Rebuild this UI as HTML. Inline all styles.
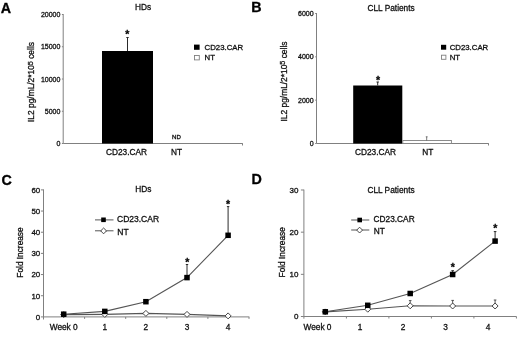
<!DOCTYPE html>
<html><head><meta charset="utf-8"><style>
html,body{margin:0;padding:0;background:#fff;}
body{width:520px;height:337px;overflow:hidden;}
svg{display:block;font-family:"Liberation Sans", sans-serif;}
text{stroke:#111;stroke-width:0.3px;}
</style></head><body>
<svg width="520" height="337" viewBox="0 0 520 337">
<defs><filter id="bl" filterUnits="userSpaceOnUse" x="0" y="0" width="520" height="337"><feGaussianBlur stdDeviation="0.35"/></filter></defs>
<rect width="520" height="337" fill="#fff"/>
<g filter="url(#bl)">
<text x="0.8" y="12.9" font-size="14.3" text-anchor="start" font-weight="bold" fill="#000" >A</text>
<text x="251.3" y="12.4" font-size="14.3" text-anchor="start" font-weight="bold" fill="#000" >B</text>
<text x="1.6" y="185.2" font-size="14.3" text-anchor="start" font-weight="bold" fill="#000" >C</text>
<text x="251.6" y="183.6" font-size="14.3" text-anchor="start" font-weight="bold" fill="#000" >D</text>
<text x="143.1" y="10.4" font-size="8.3" text-anchor="middle" font-weight="normal" fill="#111" >HDs</text>
<line x1="63.2" y1="14" x2="63.2" y2="143.5" stroke="#808080" stroke-width="1"/>
<line x1="63.2" y1="143.5" x2="242.8" y2="143.5" stroke="#808080" stroke-width="1"/>
<line x1="242.5" y1="143.5" x2="242.5" y2="145.5" stroke="#808080" stroke-width="1"/>
<line x1="61.900000000000006" y1="143.5" x2="63.2" y2="143.5" stroke="#808080" stroke-width="1"/>
<text x="60.4" y="146.0" font-size="7.0" text-anchor="end" font-weight="normal" fill="#111" >0</text>
<line x1="61.900000000000006" y1="111.25" x2="63.2" y2="111.25" stroke="#808080" stroke-width="1"/>
<text x="60.4" y="113.75" font-size="7.0" text-anchor="end" font-weight="normal" fill="#111" >5000</text>
<line x1="61.900000000000006" y1="79.0" x2="63.2" y2="79.0" stroke="#808080" stroke-width="1"/>
<text x="60.4" y="81.5" font-size="7.0" text-anchor="end" font-weight="normal" fill="#111" >10000</text>
<line x1="61.900000000000006" y1="46.75" x2="63.2" y2="46.75" stroke="#808080" stroke-width="1"/>
<text x="60.4" y="49.25" font-size="7.0" text-anchor="end" font-weight="normal" fill="#111" >15000</text>
<line x1="61.900000000000006" y1="14.5" x2="63.2" y2="14.5" stroke="#808080" stroke-width="1"/>
<text x="60.4" y="17.0" font-size="7.0" text-anchor="end" font-weight="normal" fill="#111" >20000</text>
<rect x="102" y="51" width="51" height="92.5" fill="#000"/>
<line x1="127.5" y1="37.5" x2="127.5" y2="51" stroke="#2a2a2a" stroke-width="1"/>
<line x1="126.3" y1="37.5" x2="128.7" y2="37.5" stroke="#2a2a2a" stroke-width="1"/>
<text x="127.2" y="38.33" font-size="10.5" text-anchor="middle" font-weight="bold" fill="#000" >*</text>
<text x="176.5" y="139.4" font-size="6.1" text-anchor="middle" font-weight="normal" fill="#111" >ND</text>
<text x="126.5" y="154.8" font-size="8.3" text-anchor="middle" font-weight="normal" fill="#111" >CD23.CAR</text>
<text x="176.5" y="154.8" font-size="8.3" text-anchor="middle" font-weight="normal" fill="#111" >NT</text>
<rect x="194" y="44.6" width="5.6" height="5.2" fill="#000"/>
<text x="204.6" y="50" font-size="7.8" text-anchor="start" font-weight="normal" fill="#111" >CD23.CAR</text>
<rect x="194.5" y="55.5" width="4.8" height="4.4" fill="#fff" stroke="#808080" stroke-width="0.9"/>
<text x="204.6" y="60.4" font-size="7.8" text-anchor="start" font-weight="normal" fill="#111" >NT</text>
<text transform="translate(34.3,82) rotate(-90)" font-size="8.4" text-anchor="middle" fill="#111">IL2 pg/mL/2*10<tspan font-size="7.2" dy="-1.6">5</tspan><tspan dy="1.6"> cells</tspan></text>
<text x="391.1" y="10.5" font-size="8.3" text-anchor="middle" font-weight="normal" fill="#111" >CLL Patients</text>
<line x1="316.5" y1="13" x2="316.5" y2="143.5" stroke="#808080" stroke-width="1"/>
<line x1="316.5" y1="143.5" x2="488.8" y2="143.5" stroke="#808080" stroke-width="1"/>
<line x1="488.5" y1="143.5" x2="488.5" y2="145.5" stroke="#808080" stroke-width="1"/>
<line x1="315.2" y1="143.5" x2="316.5" y2="143.5" stroke="#808080" stroke-width="1"/>
<text x="313.6" y="146.0" font-size="7.0" text-anchor="end" font-weight="normal" fill="#111" >0</text>
<line x1="315.2" y1="100.17" x2="316.5" y2="100.17" stroke="#808080" stroke-width="1"/>
<text x="313.6" y="102.67" font-size="7.0" text-anchor="end" font-weight="normal" fill="#111" >2000</text>
<line x1="315.2" y1="56.84" x2="316.5" y2="56.84" stroke="#808080" stroke-width="1"/>
<text x="313.6" y="59.34" font-size="7.0" text-anchor="end" font-weight="normal" fill="#111" >4000</text>
<line x1="315.2" y1="13.509999999999991" x2="316.5" y2="13.509999999999991" stroke="#808080" stroke-width="1"/>
<text x="313.6" y="16.00999999999999" font-size="7.0" text-anchor="end" font-weight="normal" fill="#111" >6000</text>
<rect x="353.2" y="85.5" width="49.1" height="58" fill="#000"/>
<rect x="402.8" y="140.5" width="48.6" height="3" fill="#fff" stroke="#808080" stroke-width="0.9"/>
<line x1="377.7" y1="82" x2="377.7" y2="85.5" stroke="#2a2a2a" stroke-width="1"/>
<line x1="376.5" y1="82" x2="378.9" y2="82" stroke="#2a2a2a" stroke-width="1"/>
<text x="378" y="83.53" font-size="10.5" text-anchor="middle" font-weight="bold" fill="#000" >*</text>
<line x1="426.7" y1="136.8" x2="426.7" y2="140.5" stroke="#555" stroke-width="0.8"/>
<line x1="425.8" y1="136.8" x2="427.6" y2="136.8" stroke="#555" stroke-width="0.8"/>
<text x="375.5" y="154.6" font-size="8.3" text-anchor="middle" font-weight="normal" fill="#111" >CD23.CAR</text>
<text x="427.9" y="154.6" font-size="8.3" text-anchor="middle" font-weight="normal" fill="#111" >NT</text>
<rect x="441" y="44.8" width="5.2" height="4.9" fill="#000"/>
<text x="449.7" y="49.9" font-size="7.8" text-anchor="start" font-weight="normal" fill="#111" >CD23.CAR</text>
<rect x="441.5" y="55.2" width="4.4" height="4.1" fill="#fff" stroke="#808080" stroke-width="0.9"/>
<text x="449.7" y="59.8" font-size="7.8" text-anchor="start" font-weight="normal" fill="#111" >NT</text>
<text transform="translate(286.9,81.5) rotate(-90)" font-size="8.4" text-anchor="middle" fill="#111">IL2 pg/mL/2*10<tspan font-size="7.2" dy="-1.6">5</tspan><tspan dy="1.6"> cells</tspan></text>
<text x="143.3" y="192.3" font-size="8.3" text-anchor="middle" font-weight="normal" fill="#111" >HDs</text>
<line x1="43.5" y1="189.4" x2="43.5" y2="319.5" stroke="#808080" stroke-width="1"/>
<line x1="43.5" y1="316.9" x2="249.3" y2="316.9" stroke="#808080" stroke-width="1"/>
<line x1="40.9" y1="316.9" x2="43.5" y2="316.9" stroke="#808080" stroke-width="1"/>
<text x="40.2" y="319.79999999999995" font-size="7.9" text-anchor="end" font-weight="normal" fill="#111" >0</text>
<line x1="40.9" y1="295.72999999999996" x2="43.5" y2="295.72999999999996" stroke="#808080" stroke-width="1"/>
<text x="40.2" y="298.62999999999994" font-size="7.9" text-anchor="end" font-weight="normal" fill="#111" >10</text>
<line x1="40.9" y1="274.55999999999995" x2="43.5" y2="274.55999999999995" stroke="#808080" stroke-width="1"/>
<text x="40.2" y="277.4599999999999" font-size="7.9" text-anchor="end" font-weight="normal" fill="#111" >20</text>
<line x1="40.9" y1="253.39" x2="43.5" y2="253.39" stroke="#808080" stroke-width="1"/>
<text x="40.2" y="256.28999999999996" font-size="7.9" text-anchor="end" font-weight="normal" fill="#111" >30</text>
<line x1="40.9" y1="232.21999999999997" x2="43.5" y2="232.21999999999997" stroke="#808080" stroke-width="1"/>
<text x="40.2" y="235.11999999999998" font-size="7.9" text-anchor="end" font-weight="normal" fill="#111" >40</text>
<line x1="40.9" y1="211.04999999999995" x2="43.5" y2="211.04999999999995" stroke="#808080" stroke-width="1"/>
<text x="40.2" y="213.94999999999996" font-size="7.9" text-anchor="end" font-weight="normal" fill="#111" >50</text>
<line x1="40.9" y1="189.87999999999997" x2="43.5" y2="189.87999999999997" stroke="#808080" stroke-width="1"/>
<text x="40.2" y="192.77999999999997" font-size="7.9" text-anchor="end" font-weight="normal" fill="#111" >60</text>
<line x1="84.6" y1="316.9" x2="84.6" y2="318.9" stroke="#808080" stroke-width="1"/>
<line x1="125.7" y1="316.9" x2="125.7" y2="318.9" stroke="#808080" stroke-width="1"/>
<line x1="166.8" y1="316.9" x2="166.8" y2="318.9" stroke="#808080" stroke-width="1"/>
<line x1="207.9" y1="316.9" x2="207.9" y2="318.9" stroke="#808080" stroke-width="1"/>
<line x1="249.0" y1="316.9" x2="249.0" y2="318.9" stroke="#808080" stroke-width="1"/>
<text x="63.7" y="330" font-size="8.3" text-anchor="middle" font-weight="normal" fill="#111" >Week 0</text>
<text x="104.80000000000001" y="330" font-size="8.3" text-anchor="middle" font-weight="normal" fill="#111" >1</text>
<text x="145.9" y="330" font-size="8.3" text-anchor="middle" font-weight="normal" fill="#111" >2</text>
<text x="187.0" y="330" font-size="8.3" text-anchor="middle" font-weight="normal" fill="#111" >3</text>
<text x="228.10000000000002" y="330" font-size="8.3" text-anchor="middle" font-weight="normal" fill="#111" >4</text>
<polyline points="63.7,314.6 104.80000000000001,314.4 145.9,313.4 187.0,314.4 228.10000000000002,315.9" fill="none" stroke="#555" stroke-width="1.15"/>
<polyline points="63.7,314.2 104.80000000000001,311.4 145.9,301.7 187.0,277.6 228.10000000000002,235.3" fill="none" stroke="#555" stroke-width="1.15"/>
<line x1="187.0" y1="264.5" x2="187.0" y2="277.6" stroke="#2a2a2a" stroke-width="1"/>
<line x1="185.8" y1="264.5" x2="188.2" y2="264.5" stroke="#2a2a2a" stroke-width="1"/>
<line x1="228.10000000000002" y1="206.6" x2="228.10000000000002" y2="235.3" stroke="#2a2a2a" stroke-width="1"/>
<line x1="226.90000000000003" y1="206.6" x2="229.3" y2="206.6" stroke="#2a2a2a" stroke-width="1"/>
<text x="187.2" y="265.93" font-size="10.5" text-anchor="middle" font-weight="bold" fill="#000" >*</text>
<text x="228.1" y="207.73" font-size="10.5" text-anchor="middle" font-weight="bold" fill="#000" >*</text>
<path d="M63.7 311.6 L66.7 314.6 L63.7 317.6 L60.7 314.6 Z" fill="#fff" stroke="#333" stroke-width="0.9"/>
<path d="M104.80000000000001 311.4 L107.80000000000001 314.4 L104.80000000000001 317.4 L101.80000000000001 314.4 Z" fill="#fff" stroke="#333" stroke-width="0.9"/>
<path d="M145.9 310.4 L148.9 313.4 L145.9 316.4 L142.9 313.4 Z" fill="#fff" stroke="#333" stroke-width="0.9"/>
<path d="M187.0 311.4 L190.0 314.4 L187.0 317.4 L184.0 314.4 Z" fill="#fff" stroke="#333" stroke-width="0.9"/>
<path d="M228.10000000000002 312.9 L231.10000000000002 315.9 L228.10000000000002 318.9 L225.10000000000002 315.9 Z" fill="#fff" stroke="#333" stroke-width="0.9"/>
<rect x="60.95" y="311.45" width="5.5" height="5.5" fill="#000"/>
<rect x="102.05000000000001" y="308.65" width="5.5" height="5.5" fill="#000"/>
<rect x="143.15" y="298.95" width="5.5" height="5.5" fill="#000"/>
<rect x="184.25" y="274.85" width="5.5" height="5.5" fill="#000"/>
<rect x="225.35000000000002" y="232.55" width="5.5" height="5.5" fill="#000"/>
<line x1="95" y1="219.9" x2="113.5" y2="219.9" stroke="#555" stroke-width="1"/>
<rect x="101.2" y="217.5" width="4.6" height="4.6" fill="#000"/>
<text x="117" y="222.2" font-size="8.5" text-anchor="start" font-weight="normal" fill="#111" >CD23.CAR</text>
<line x1="95" y1="230.8" x2="113.5" y2="230.8" stroke="#555" stroke-width="1"/>
<path d="M103.6 228.0 L106.5 230.9 L103.6 233.8 L100.69999999999999 230.9 Z" fill="#fff" stroke="#333" stroke-width="0.9"/>
<text x="117.3" y="234.5" font-size="8.5" text-anchor="start" font-weight="normal" fill="#111" >NT</text>
<text x="391" y="192.7" font-size="8.3" text-anchor="middle" font-weight="normal" fill="#111" >CLL Patients</text>
<line x1="303.9" y1="189.6" x2="303.9" y2="318.7" stroke="#808080" stroke-width="1"/>
<line x1="303.9" y1="316.5" x2="516.5" y2="316.5" stroke="#808080" stroke-width="1"/>
<line x1="300.9" y1="316.5" x2="303.9" y2="316.5" stroke="#808080" stroke-width="1"/>
<text x="298.4" y="319.4" font-size="8.0" text-anchor="end" font-weight="normal" fill="#111" >0</text>
<line x1="300.9" y1="274.33" x2="303.9" y2="274.33" stroke="#808080" stroke-width="1"/>
<text x="298.4" y="277.22999999999996" font-size="8.0" text-anchor="end" font-weight="normal" fill="#111" >10</text>
<line x1="300.9" y1="232.16" x2="303.9" y2="232.16" stroke="#808080" stroke-width="1"/>
<text x="298.4" y="235.06" font-size="8.0" text-anchor="end" font-weight="normal" fill="#111" >20</text>
<line x1="300.9" y1="189.99" x2="303.9" y2="189.99" stroke="#808080" stroke-width="1"/>
<text x="298.4" y="192.89000000000001" font-size="8.0" text-anchor="end" font-weight="normal" fill="#111" >30</text>
<line x1="346.4" y1="316.5" x2="346.4" y2="318.5" stroke="#808080" stroke-width="1"/>
<line x1="388.9" y1="316.5" x2="388.9" y2="318.5" stroke="#808080" stroke-width="1"/>
<line x1="431.4" y1="316.5" x2="431.4" y2="318.5" stroke="#808080" stroke-width="1"/>
<line x1="473.9" y1="316.5" x2="473.9" y2="318.5" stroke="#808080" stroke-width="1"/>
<line x1="516.4" y1="316.5" x2="516.4" y2="318.5" stroke="#808080" stroke-width="1"/>
<text x="317.5" y="330" font-size="8.3" text-anchor="middle" font-weight="normal" fill="#111" >Week 0</text>
<text x="360" y="330" font-size="8.3" text-anchor="middle" font-weight="normal" fill="#111" >1</text>
<text x="403.1" y="330" font-size="8.3" text-anchor="middle" font-weight="normal" fill="#111" >2</text>
<text x="445.6" y="330" font-size="8.3" text-anchor="middle" font-weight="normal" fill="#111" >3</text>
<text x="488.1" y="330" font-size="8.3" text-anchor="middle" font-weight="normal" fill="#111" >4</text>
<polyline points="325.3,311.9 367.75,309.2 410.20000000000005,305.8 452.65000000000003,306.0 495.1,306.0" fill="none" stroke="#555" stroke-width="1.15"/>
<polyline points="325.3,311.8 367.75,305.3 410.20000000000005,293.5 452.65000000000003,274.5 495.1,241.1" fill="none" stroke="#555" stroke-width="1.15"/>
<line x1="410.20000000000005" y1="300.6" x2="410.20000000000005" y2="305.8" stroke="#444" stroke-width="0.9"/>
<line x1="408.90000000000003" y1="300.6" x2="411.50000000000006" y2="300.6" stroke="#444" stroke-width="0.9"/>
<line x1="452.65000000000003" y1="300.4" x2="452.65000000000003" y2="306.0" stroke="#444" stroke-width="0.9"/>
<line x1="451.35" y1="300.4" x2="453.95000000000005" y2="300.4" stroke="#444" stroke-width="0.9"/>
<line x1="495.1" y1="300.0" x2="495.1" y2="306.0" stroke="#444" stroke-width="0.9"/>
<line x1="493.8" y1="300.0" x2="496.40000000000003" y2="300.0" stroke="#444" stroke-width="0.9"/>
<line x1="452.65000000000003" y1="270.7" x2="452.65000000000003" y2="274.5" stroke="#2a2a2a" stroke-width="1"/>
<line x1="451.35" y1="270.7" x2="453.95000000000005" y2="270.7" stroke="#2a2a2a" stroke-width="1"/>
<line x1="495.1" y1="231.6" x2="495.1" y2="241.1" stroke="#2a2a2a" stroke-width="1"/>
<line x1="493.8" y1="231.6" x2="496.40000000000003" y2="231.6" stroke="#2a2a2a" stroke-width="1"/>
<text x="452.7" y="270.53" font-size="10.5" text-anchor="middle" font-weight="bold" fill="#000" >*</text>
<text x="495.3" y="231.53" font-size="10.5" text-anchor="middle" font-weight="bold" fill="#000" >*</text>
<path d="M325.3 308.9 L328.3 311.9 L325.3 314.9 L322.3 311.9 Z" fill="#fff" stroke="#333" stroke-width="0.9"/>
<path d="M367.75 306.2 L370.75 309.2 L367.75 312.2 L364.75 309.2 Z" fill="#fff" stroke="#333" stroke-width="0.9"/>
<path d="M410.20000000000005 302.8 L413.20000000000005 305.8 L410.20000000000005 308.8 L407.20000000000005 305.8 Z" fill="#fff" stroke="#333" stroke-width="0.9"/>
<path d="M452.65000000000003 303.0 L455.65000000000003 306.0 L452.65000000000003 309.0 L449.65000000000003 306.0 Z" fill="#fff" stroke="#333" stroke-width="0.9"/>
<path d="M495.1 303.0 L498.1 306.0 L495.1 309.0 L492.1 306.0 Z" fill="#fff" stroke="#333" stroke-width="0.9"/>
<rect x="322.55" y="309.05" width="5.5" height="5.5" fill="#000"/>
<rect x="365.0" y="302.55" width="5.5" height="5.5" fill="#000"/>
<rect x="407.45000000000005" y="290.75" width="5.5" height="5.5" fill="#000"/>
<rect x="449.90000000000003" y="271.75" width="5.5" height="5.5" fill="#000"/>
<rect x="492.35" y="238.35" width="5.5" height="5.5" fill="#000"/>
<line x1="351.2" y1="220" x2="369.3" y2="220" stroke="#555" stroke-width="1"/>
<rect x="357.4" y="217.7" width="4.6" height="4.6" fill="#000"/>
<text x="373.6" y="221.9" font-size="8.3" text-anchor="start" font-weight="normal" fill="#111" >CD23.CAR</text>
<line x1="351.2" y1="230" x2="369.3" y2="230" stroke="#555" stroke-width="1"/>
<path d="M359.6 227.2 L362.5 230.1 L359.6 233.0 L356.70000000000005 230.1 Z" fill="#fff" stroke="#333" stroke-width="0.9"/>
<text x="373.8" y="233.7" font-size="8.3" text-anchor="start" font-weight="normal" fill="#111" >NT</text>
<text transform="translate(23.2,252.5) rotate(-90)" font-size="8.3" text-anchor="middle" fill="#111">Fold Increase</text>
<text transform="translate(285,252.3) rotate(-90)" font-size="8.3" text-anchor="middle" fill="#111">Fold Increase</text>
</g>
</svg>
</body></html>
